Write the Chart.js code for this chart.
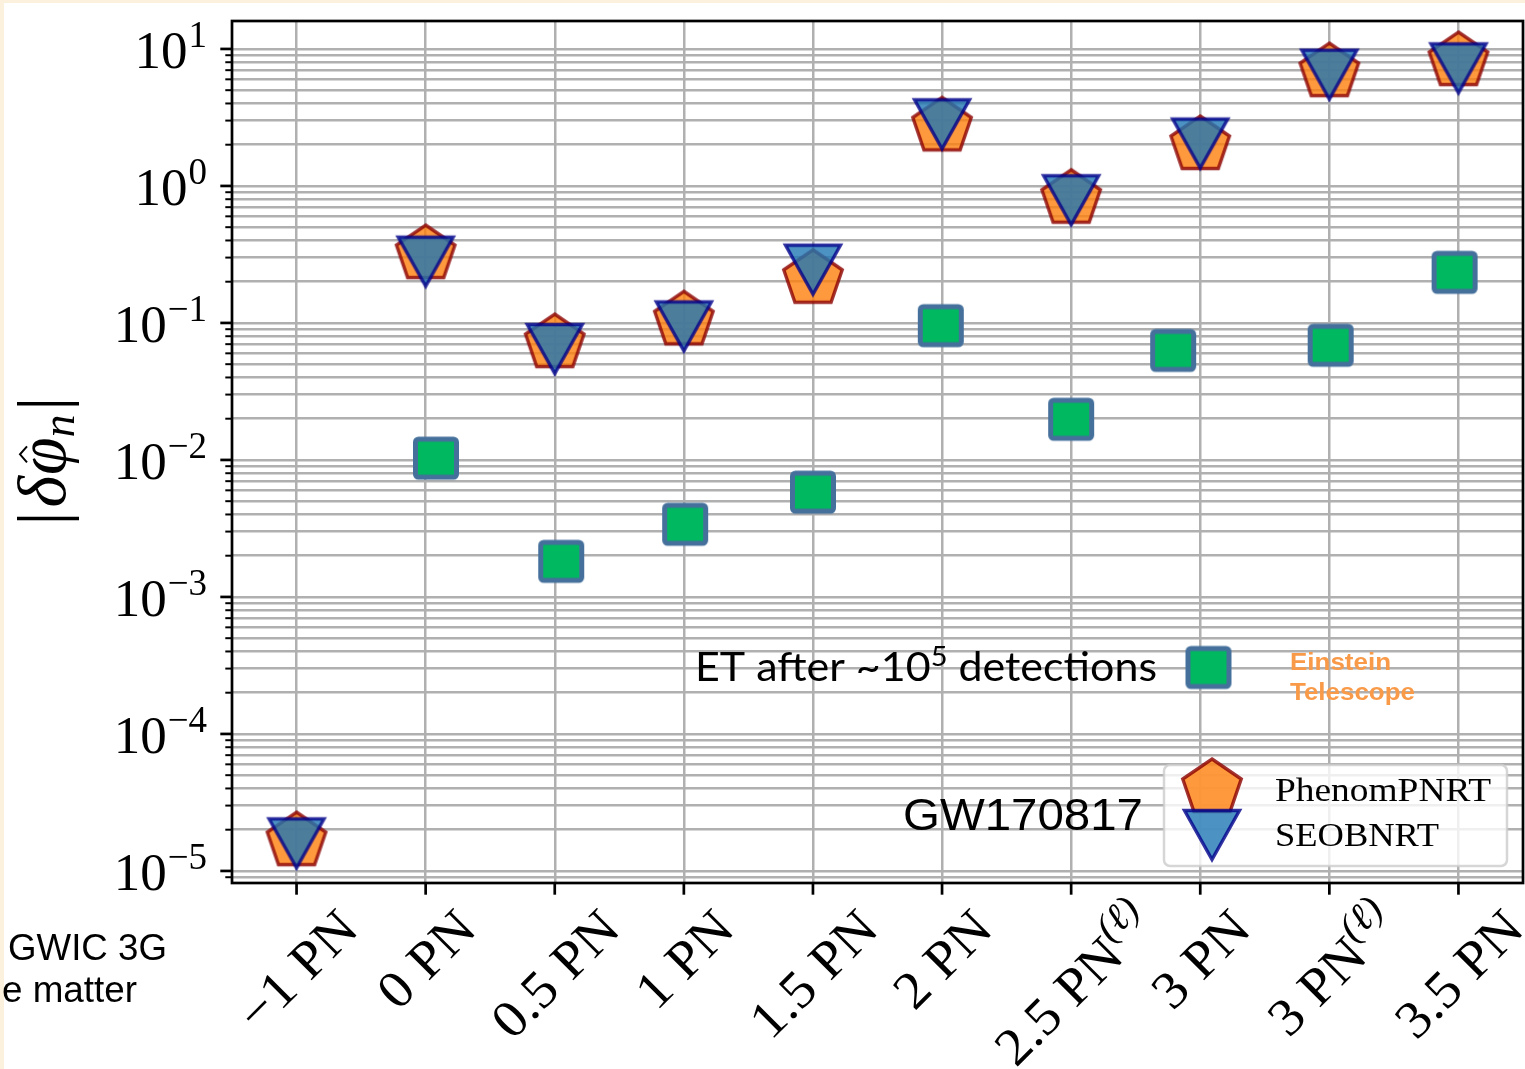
<!DOCTYPE html>
<html>
<head>
<meta charset="utf-8">
<script src="https://cdn.jsdelivr.net/npm/chart.js@4.4.1/dist/chart.umd.min.js"></script>
<style>
  html, body { margin: 0; padding: 0; background: #fcf1dc; overflow: hidden; }
  canvas { display: block; }
</style>
</head>
<body>
<canvas id="pn" width="1525" height="1069"></canvas>
<script>
// PN orders on the x axis, "(l)" marks the log terms
var pnOrders = ["\u22121", "0", "0.5", "1", "1.5", "2", "2.5", "3", "3", "3.5"];
var pnTails = ["", "", "", "", "", "", "(\u2113)", "", "(\u2113)", ""];

// |delta phi_n| bounds from GW170817, one per PN order
var phenomPNRT = [1.65e-5, 0.318, 0.0713, 0.1045, 0.21, 2.72, 0.807, 1.99, 6.77, 8.15];
var seobNRT = [1.59e-5, 0.28, 0.0645, 0.0944, 0.245, 2.82, 0.787, 2.04, 6.49, 7.22];

// Einstein Telescope projection (no -1 PN point)
var etPos = [1.08, 2.05, 3.01, 4.0, 4.99, 6.0, 6.79, 8.01, 8.97];
var etBounds = [0.0103, 0.00182, 0.00339, 0.00582, 0.0955, 0.0198, 0.063, 0.0687, 0.234];

var yDecades = [-5, -4, -3, -2, -1, 0, 1];
var yMinExp = -5.088;
var yMaxExp = 1.204;

var serif = '"Liberation Serif", "DejaVu Serif", serif';
var sans = '"Liberation Sans", Arial, sans-serif';
function F(size) { return size + "px " + serif; }

function markerCanvas(w, h, draw) {
    var c = document.createElement("canvas");
    c.width = w;
    c.height = h;
    var g = c.getContext("2d");
    g.translate(w / 2, h / 2);
    draw(g);
    return c;
}

var pentagon = markerCanvas(70, 66, function (g) {
    g.beginPath();
    for (var k = 0; k < 5; k++) {
        var a = -Math.PI / 2 + k * 2 * Math.PI / 5;
        g.lineTo(1.06 * 29 * Math.cos(a), 29 * Math.sin(a));
    }
    g.closePath();
    g.fillStyle = "rgba(255,127,14,0.8)";
    g.fill();
    g.lineWidth = 3.4;
    g.strokeStyle = "rgba(139,0,0,0.8)";
    g.stroke();
});

var triangle = markerCanvas(68, 64, function (g) {
    g.beginPath();
    g.moveTo(-27.5, -24.5);
    g.lineTo(27.5, -24.5);
    g.lineTo(0, 24.5);
    g.closePath();
    g.fillStyle = "rgba(31,119,180,0.8)";
    g.fill();
    g.lineWidth = 3.4;
    g.strokeStyle = "rgba(0,0,139,0.8)";
    g.stroke();
});

var square = markerCanvas(52, 50, function (g) {
    g.beginPath();
    g.roundRect(-20.5, -19, 41, 38, 3);
    g.fillStyle = "#00b860";
    g.fill();
    g.lineWidth = 5;
    g.strokeStyle = "#45709c";
    g.stroke();
});

// text made of pieces with their own font and baseline shift
function runWidth(ctx, runs) {
    var w = 0;
    runs.forEach(function (r) {
        ctx.font = r.font;
        w += (r.gap || 0) + ctx.measureText(r.text).width;
    });
    return w;
}
function drawRuns(ctx, runs, x, y) {
    var cx = x;
    runs.forEach(function (r) {
        ctx.font = r.font;
        cx += r.gap || 0;
        ctx.fillText(r.text, cx, y + (r.dy || 0));
        cx += ctx.measureText(r.text).width;
    });
}
function fitRuns(ctx, runs, x, y, targetW) {
    var w = runWidth(ctx, runs);
    ctx.save();
    ctx.translate(x, y);
    ctx.scale(targetW / w, 1);
    drawRuns(ctx, runs, 0, 0);
    ctx.restore();
}

function isDecade(v) {
    var l = Math.log10(v);
    return Math.abs(l - Math.round(l)) < 1e-9;
}

var decor = {
    id: "decor",
    beforeDraw: function (chart) {
        var ctx = chart.ctx;
        ctx.save();
        ctx.fillStyle = "#fcf1dc";
        ctx.fillRect(0, 0, chart.width, chart.height);
        ctx.fillStyle = "#ffffff";
        ctx.fillRect(4, 3, chart.width - 4, chart.height - 3);
        ctx.restore();
    },
    afterDraw: function (chart) {
        var ctx = chart.ctx;
        var area = chart.chartArea;
        var xs = chart.scales.x;
        var ys = chart.scales.y;
        ctx.save();
        ctx.fillStyle = "#000";
        ctx.strokeStyle = "#000";
        ctx.textAlign = "left";
        ctx.textBaseline = "alphabetic";

        // axes frame
        ctx.lineWidth = 2.7;
        ctx.strokeRect(area.left, area.top, area.right - area.left, area.bottom - area.top);

        // y ticks
        ys.ticks.forEach(function (t) {
            var y = ys.getPixelForValue(t.value);
            var major = isDecade(t.value);
            ctx.lineWidth = major ? 2.7 : 2;
            ctx.beginPath();
            ctx.moveTo(area.left, y);
            ctx.lineTo(area.left - (major ? 11.7 : 6.7), y);
            ctx.stroke();
        });
        yDecades.forEach(function (d) {
            var y = ys.getPixelForValue(Math.pow(10, d));
            var runs = [
                { text: "10", font: F(53) },
                { text: d < 0 ? "\u2212" + (-d) : String(d), font: F(37), dy: -20.5, gap: 1 }
            ];
            drawRuns(ctx, runs, 207 - runWidth(ctx, runs), y + 18.7);
        });

        // x ticks and rotated labels
        var sx = 1.05;
        pnOrders.forEach(function (ord, i) {
            var x = xs.getPixelForValue(i);
            ctx.lineWidth = 2.7;
            ctx.beginPath();
            ctx.moveTo(x, area.bottom);
            ctx.lineTo(x, area.bottom + 11.7);
            ctx.stroke();

            var runs = [{ text: ord, font: F(53) }, { text: "PN", font: F(53), gap: 14 }];
            var h = 36;
            var lift = 0;
            if (pnTails[i]) {
                runs.push({ text: pnTails[i], font: "italic " + F(39), dy: -22 });
                h = 44;
                lift = 10;
            }
            var w = runWidth(ctx, runs) * sx;
            var half = (w + h) * Math.SQRT1_2 / 2;
            ctx.save();
            ctx.translate(x, area.bottom + 23 + half - lift);
            ctx.rotate(-Math.PI / 4);
            ctx.scale(sx, 1);
            drawRuns(ctx, runs, -w / sx / 2, h / 2);
            ctx.restore();
        });

        // y axis title |delta phi-hat_n|
        ctx.save();
        ctx.translate(65, 461);
        ctx.rotate(-Math.PI / 2);
        var parts = [
            { text: "|", font: F(68) },
            { text: "\u03b4", font: "italic " + F(68), gap: 4 },
            { text: "\u03c6", font: "italic " + F(68), gap: 1 },
            { text: "n", font: "italic " + F(46), dy: 9 },
            { text: "|", font: F(68), gap: 4 }
        ];
        var total = runWidth(ctx, parts);
        var cx = -total / 2;
        var phiX = 0;
        var phiW = 0;
        parts.forEach(function (p) {
            ctx.font = p.font;
            cx += p.gap || 0;
            ctx.fillText(p.text, cx, p.dy || 0);
            var pw = ctx.measureText(p.text).width;
            if (p.text === "\u03c6") { phiX = cx; phiW = pw; }
            cx += pw;
        });
        var hx = phiX + phiW * 0.55;
        ctx.lineWidth = 2;
        ctx.beginPath();
        ctx.moveTo(hx - 8, -38);
        ctx.lineTo(hx, -45);
        ctx.lineTo(hx + 8, -38);
        ctx.stroke();
        ctx.restore();

        // legend box
        ctx.save();
        ctx.beginPath();
        ctx.roundRect(1164, 765, 343, 101, 6);
        ctx.fillStyle = "rgba(255,255,255,0.8)";
        ctx.fill();
        ctx.lineWidth = 2.5;
        ctx.strokeStyle = "rgba(204,204,204,0.8)";
        ctx.stroke();
        ctx.restore();
        ctx.drawImage(pentagon, 1212 - pentagon.width / 2, 788 - pentagon.height / 2);
        ctx.drawImage(triangle, 1212 - triangle.width / 2, 835 - triangle.height / 2);
        fitRuns(ctx, [{ text: "PhenomPNRT", font: F(33) }], 1275, 801, 216);
        fitRuns(ctx, [{ text: "SEOBNRT", font: F(33) }], 1275, 846, 164);

        // slide annotations
        fitRuns(ctx, [
            { text: "ET after ~10", font: "40px Lato, " + sans },
            { text: "5", font: "27px Lato, " + sans, dy: -15 },
            { text: " detections", font: "40px Lato, " + sans }
        ], 695, 681, 462);
        ctx.drawImage(square, 1208.5 - square.width / 2, 667.5 - square.height / 2);
        fitRuns(ctx, [{ text: "GW170817", font: "45px " + sans }], 903, 830, 240);

        ctx.fillStyle = "#f99a48";
        fitRuns(ctx, [{ text: "Einstein", font: "bold 24px " + sans }], 1290, 670, 101);
        fitRuns(ctx, [{ text: "Telescope", font: "bold 24px " + sans }], 1290, 700, 125);

        ctx.fillStyle = "#000";
        fitRuns(ctx, [{ text: "GWIC 3G", font: "37px " + sans }], 8, 960, 159);
        fitRuns(ctx, [{ text: "e matter", font: "37px " + sans }], 2, 1002, 135);

        ctx.restore();
    }
};

var gridOpts = { color: "#b0b0b0", lineWidth: 2.5, drawTicks: false };

new Chart(document.getElementById("pn"), {
    type: "scatter",
    data: {
        datasets: [
            {
                label: "ET after 1e5 detections",
                data: etPos.map(function (x, i) { return { x: x, y: etBounds[i] }; }),
                pointStyle: square,
                pointRadius: 22,
                order: 0
            },
            {
                label: "SEOBNRT",
                data: seobNRT.map(function (v, i) { return { x: i, y: v }; }),
                pointStyle: triangle,
                pointRadius: 28,
                order: 1
            },
            {
                label: "PhenomPNRT",
                data: phenomPNRT.map(function (v, i) { return { x: i, y: v }; }),
                pointStyle: pentagon,
                pointRadius: 30,
                order: 2
            }
        ]
    },
    options: {
        responsive: false,
        devicePixelRatio: 1,
        animation: false,
        clip: false,
        layout: { autoPadding: false, padding: { left: 0, right: 2, top: 21, bottom: 0 } },
        plugins: { legend: { display: false }, tooltip: { enabled: false } },
        scales: {
            x: {
                type: "linear",
                min: -0.5,
                max: 9.5,
                grid: gridOpts,
                border: { display: false },
                ticks: { display: false },
                afterBuildTicks: function (scale) {
                    scale.ticks = pnOrders.map(function (_, i) { return { value: i }; });
                },
                afterFit: function (scale) { scale.height = 186; }
            },
            y: {
                type: "logarithmic",
                bounds: "data",
                min: Math.pow(10, yMinExp),
                max: Math.pow(10, yMaxExp),
                grid: gridOpts,
                border: { display: false },
                ticks: { display: false },
                afterBuildTicks: function (scale) {
                    var ticks = [];
                    for (var e = -6; e <= 1; e++) {
                        for (var m = 1; m <= 9; m++) {
                            var v = m * Math.pow(10, e);
                            if (v >= scale.min && v <= scale.max) ticks.push({ value: v });
                        }
                    }
                    scale.ticks = ticks;
                },
                afterFit: function (scale) { scale.width = 232; }
            }
        }
    },
    plugins: [decor]
});
</script>
</body>
</html>
